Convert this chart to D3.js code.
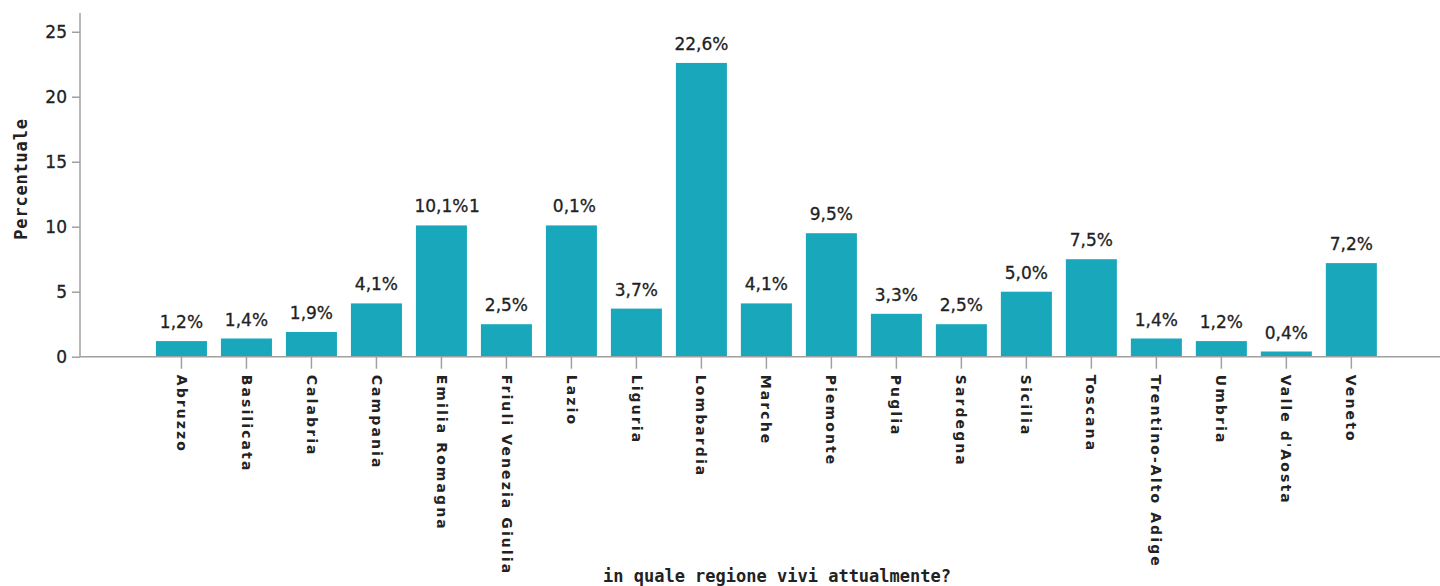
<!DOCTYPE html>
<html>
<head>
<meta charset="utf-8">
<script src="https://cdn.jsdelivr.net/npm/d3@7"></script>
<style>
  html, body { margin: 0; padding: 0; background: #fff; }
  svg { display: block; }
</style>
</head>
<body>
<svg id="chart" width="1440" height="586"></svg>
<script>
// Regioni e percentuali di risposta
const regions = ["Abruzzo", "Basilicata", "Calabria", "Campania", "Emilia Romagna",
  "Friuli Venezia Giulia", "Lazio", "Liguria", "Lombardia", "Marche", "Piemonte",
  "Puglia", "Sardegna", "Sicilia", "Toscana", "Trentino-Alto Adige", "Umbria",
  "Valle d'Aosta", "Veneto"];
const percentages = [1.2, 1.4, 1.9, 4.1, 10.1, 2.5, 10.1, 3.7, 22.6, 4.1, 9.5,
  3.3, 2.5, 5.0, 7.5, 1.4, 1.2, 0.4, 7.2];
const yTicks = [0, 5, 10, 15, 20, 25];
const xTitle = "in quale regione vivi attualmente?";
const yTitle = "Percentuale";

const W = 1440, H = 586;
const margin = { left: 80, right: 0, top: 13, bottom: 229 };
const svg = d3.select("#chart");

const x = d3.scaleBand()
  .domain(regions)
  .range([margin.left, W - margin.right])
  .paddingInner(0.215)
  .paddingOuter(1.07)
  .align(0.546);

const y = d3.scaleLinear()
  .domain([0, d3.max(percentages) * 1.17])
  .range([H - margin.bottom - 0.3, margin.top]);

const fmt = v => d3.format(".1f")(v).replace(".", ",") + "%";
const axisColor = "#a0a0a0";
const textColor = "#222";

// Barre
svg.append("g")
  .selectAll("rect")
  .data(percentages)
  .join("rect")
  .attr("x", (d, i) => x(regions[i]))
  .attr("y", d => y(d))
  .attr("width", x.bandwidth())
  .attr("height", d => y(0) - y(d))
  .attr("fill", "#19a8bb");

// Etichette dei valori sopra le barre
const labels = svg.append("g")
  .attr("font-family", "'DejaVu Sans', sans-serif")
  .attr("font-size", 17)
  .attr("fill", textColor)
  .attr("stroke", textColor)
  .attr("stroke-width", 0.3)
  .attr("text-anchor", "middle");

percentages.forEach((v, i) => {
  const cx = x(regions[i]) + x.bandwidth() / 2;
  const t = labels.append("text").attr("y", y(v) - 13);
  const s = fmt(v);
  if (regions[i] === "Lazio") {
    // la cifra iniziale finisce accanto all'etichetta dell'Emilia Romagna
    const prev = x(regions[i - 2]) + x.bandwidth() / 2;
    t.append("tspan").attr("x", prev + 33).text(s.slice(0, 1));
    t.append("tspan").attr("x", cx + 3).text(s.slice(1));
  } else {
    t.attr("x", cx).text(s);
  }
});

// Asse Y
const yAxis = svg.append("g")
  .attr("transform", `translate(${margin.left},0)`)
  .call(d3.axisLeft(y).tickValues(yTicks).tickSize(8).tickPadding(5).tickSizeOuter(0));
yAxis.select(".domain").attr("stroke", axisColor).attr("stroke-width", 1.5)
  .attr("d", `M0,${margin.top}V${y(0)}`);
yAxis.selectAll(".tick line").attr("stroke", axisColor).attr("stroke-width", 1.5);
yAxis.selectAll(".tick text")
  .attr("fill", textColor)
  .attr("stroke", textColor)
  .attr("stroke-width", 0.3)
  .attr("font-family", "'DejaVu Sans', sans-serif")
  .attr("font-size", 17);

// Asse X
const xAxis = svg.append("g")
  .attr("transform", `translate(0,${y(0)})`)
  .call(d3.axisBottom(x).tickSize(12).tickSizeOuter(0));
xAxis.select(".domain").attr("stroke", axisColor).attr("stroke-width", 1.5)
  .attr("d", `M${margin.left},0H${W}`);
xAxis.selectAll(".tick line").attr("stroke", axisColor).attr("stroke-width", 1.5);
xAxis.selectAll(".tick text")
  .attr("fill", textColor)
  .attr("font-family", "'DejaVu Sans', sans-serif")
  .attr("font-weight", "bold")
  .attr("font-size", 14)
  .attr("letter-spacing", "2.1px")
  .attr("text-anchor", "start")
  .attr("transform", "rotate(90)")
  .attr("x", 18)
  .attr("y", 0)
  .attr("dy", "0.35em");

// Titoli degli assi
svg.append("text")
  .attr("x", 777)
  .attr("y", 582)
  .attr("text-anchor", "middle")
  .attr("font-family", "'DejaVu Sans Mono', monospace")
  .attr("font-weight", "bold")
  .attr("font-size", 17)
  .attr("fill", textColor)
  .text(xTitle);

svg.append("text")
  .attr("transform", `translate(27,179) rotate(-90)`)
  .attr("text-anchor", "middle")
  .attr("font-family", "'DejaVu Sans Mono', monospace")
  .attr("font-weight", "bold")
  .attr("font-size", 17)
  .attr("letter-spacing", "0.8px")
  .attr("fill", textColor)
  .text(yTitle);
</script>
</body>
</html>
